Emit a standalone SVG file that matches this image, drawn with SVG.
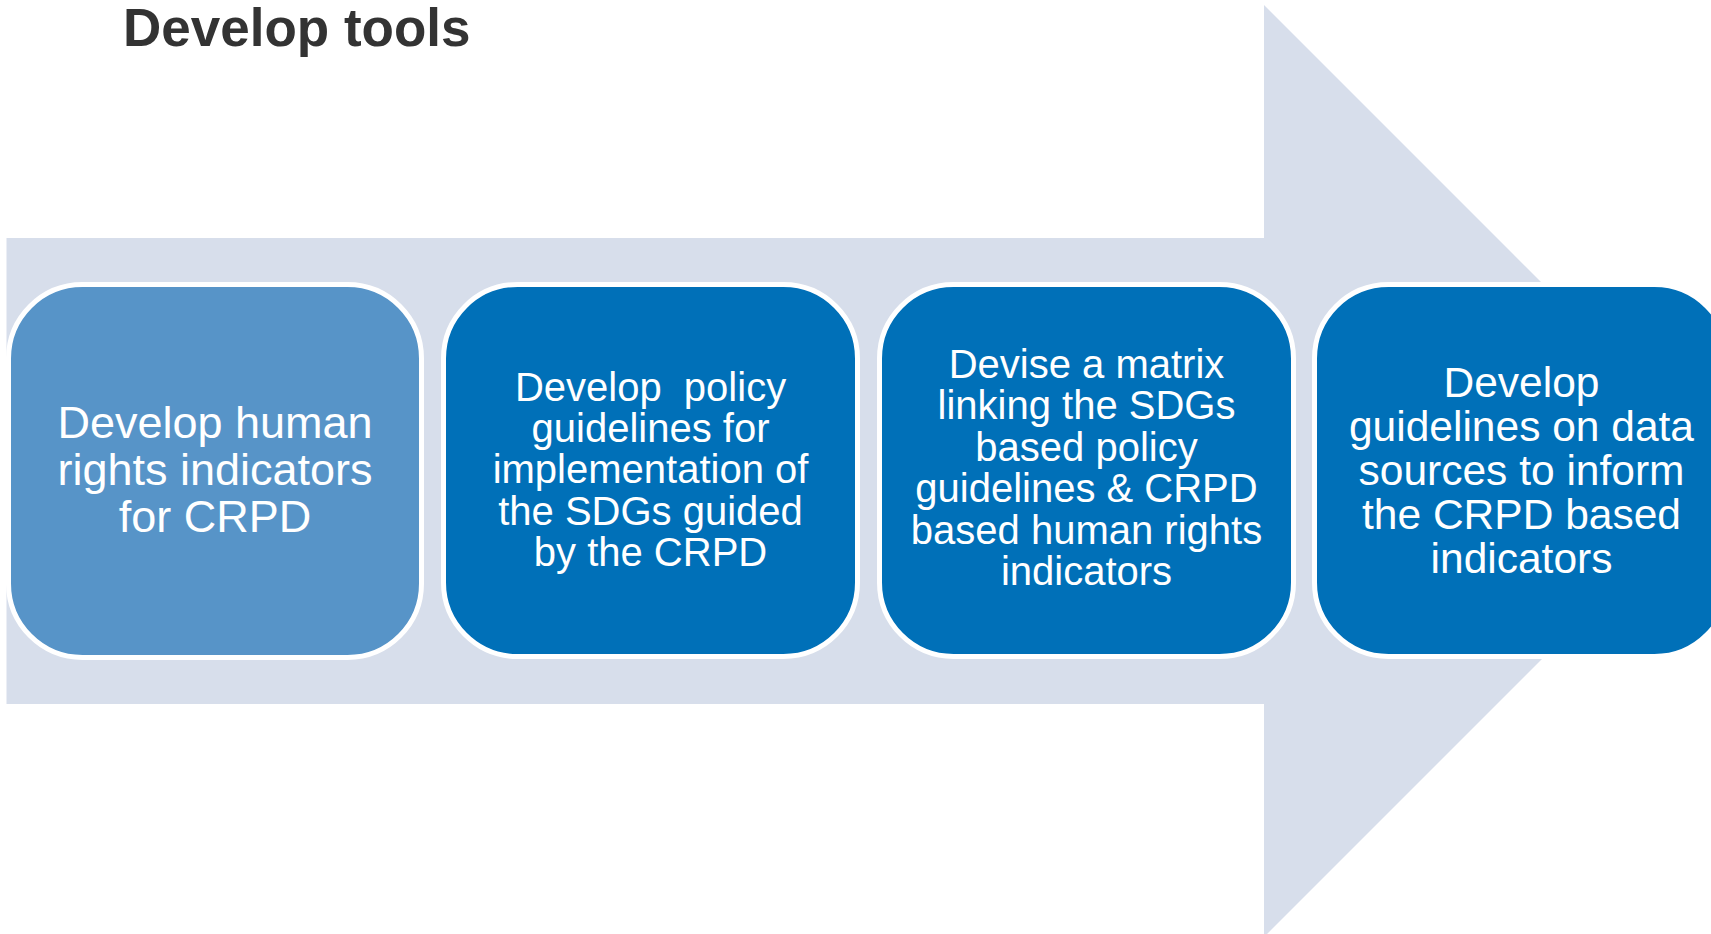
<svg xmlns="http://www.w3.org/2000/svg" width="1711" height="934" viewBox="0 0 1711 934">
<style>
.box{stroke:#FFFFFF;stroke-width:5}
.dark{fill:#0070B8}
.light{fill:#5794C8}
.t{font-family:"Liberation Sans",Arial,sans-serif;fill:#FFFFFF;text-anchor:middle}
.title{font-family:"Liberation Sans",Arial,sans-serif;font-weight:bold;fill:#333333;font-size:53px}
</style>
<rect width="1711" height="934" fill="#FFFFFF"/>
<g id="arrow">
<polygon points="6.5,238 1264,238 1264,5 1730,471 1264,937 1264,704 6.5,704" fill="#D7DEEB"/>
</g>
<text class="title" x="123" y="46">Develop tools</text>
<g id="node1">
<rect class="box light" x="8.5" y="284.5" width="413" height="373" rx="74" ry="74"/>
<text class="t" font-size="45"><tspan x="215" y="438">Develop human</tspan><tspan x="215" y="485">rights indicators</tspan><tspan x="215" y="532">for CRPD</tspan></text>
</g>
<g id="node2">
<rect class="box dark" x="443.5" y="284.5" width="414" height="372" rx="74" ry="74"/>
<text class="t" font-size="40"><tspan x="650.5" y="400.5" xml:space="preserve">Develop  policy</tspan><tspan x="650.5" y="441.9">guidelines for</tspan><tspan x="650.5" y="483.3">implementation of</tspan><tspan x="650.5" y="524.7">the SDGs guided</tspan><tspan x="650.5" y="566.1">by the CRPD</tspan></text>
</g>
<g id="node3">
<rect class="box dark" x="879.5" y="284.5" width="414" height="372" rx="74" ry="74"/>
<text class="t" font-size="40"><tspan x="1086.5" y="378">Devise a matrix</tspan><tspan x="1086.5" y="419.4">linking the SDGs</tspan><tspan x="1086.5" y="460.8">based policy</tspan><tspan x="1086.5" y="502.2">guidelines &amp; CRPD</tspan><tspan x="1086.5" y="543.6">based human rights</tspan><tspan x="1086.5" y="585">indicators</tspan></text>
</g>
<g id="node4">
<rect class="box dark" x="1314.5" y="284.5" width="414" height="372" rx="74" ry="74"/>
<text class="t" font-size="42.5"><tspan x="1521.5" y="397">Develop</tspan><tspan x="1521.5" y="440.9">guidelines on data</tspan><tspan x="1521.5" y="484.8">sources to inform</tspan><tspan x="1521.5" y="528.7">the CRPD based</tspan><tspan x="1521.5" y="572.6">indicators</tspan></text>
</g>
<g id="connectors"></g>
</svg>
